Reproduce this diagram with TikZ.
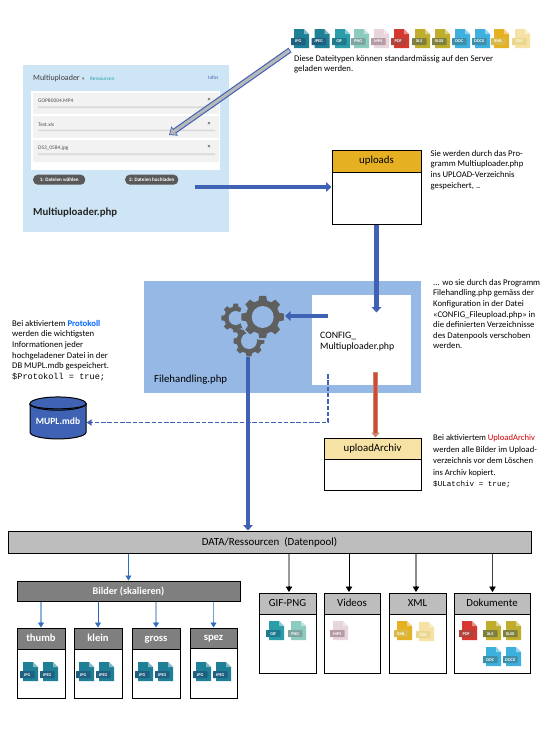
\documentclass[tikz,border=0pt]{standalone}
\usepackage{fontspec}
\setmainfont{Carlito}
\newfontfamily\monof{Liberation Mono}
\usetikzlibrary{arrows.meta,shapes.geometric,calc}
\definecolor{blueA}{HTML}{3F62B4}
\definecolor{panelB}{HTML}{95B8E5}
\definecolor{panelA}{HTML}{CDE5F4}
\definecolor{grayA}{HTML}{BDBDBD}
\definecolor{grayB}{HTML}{7F7F7F}
\definecolor{gearC}{HTML}{5F5F5F}
\definecolor{gold}{HTML}{E5B022}
\definecolor{goldP}{HTML}{F7E2A5}
\definecolor{tealD}{HTML}{1E7F96}\definecolor{tealDt}{HTML}{1F5F80}
\definecolor{tealM}{HTML}{2A9DA8}\definecolor{tealMt}{HTML}{1F7A90}
\definecolor{mint}{HTML}{8CCBBF}\definecolor{mintT}{HTML}{7FA5A0}
\definecolor{rose}{HTML}{E8D5DC}\definecolor{roseT}{HTML}{B59AA8}
\definecolor{redI}{HTML}{D5382F}\definecolor{redT}{HTML}{B0443C}
\definecolor{olive}{HTML}{BFAE2C}\definecolor{oliveT}{HTML}{7F8040}
\definecolor{skyI}{HTML}{3DB0DE}\definecolor{skyT}{HTML}{3E8FAA}
\definecolor{goldT}{HTML}{D9B94A}\definecolor{paleT}{HTML}{EAD88F}
\definecolor{tipB}{HTML}{2E6FBF}
\definecolor{aT}{HTML}{8FB4D9}\definecolor{aK}{HTML}{2566B8}\definecolor{aG}{HTML}{A5BFDB}\definecolor{aS}{HTML}{6FA0D0}
\definecolor{arrowRed}{HTML}{D24A32}\definecolor{arrowRedO}{HTML}{C9866E}
\newcounter{ic}
\newcommand\fileicon[5]{% x,y,body,tag,label
  \begin{scope}[shift={(#1,#2)}]
    \fill[#3] (3,0) -- (13,0) -- (18,5) -- (18,19) -- (3,19) -- cycle;
    \fill[white,opacity=.45] (13,0) -- (18,5) -- (13,5) -- cycle;
    \fill[#4,rounded corners=.5pt] (0,9) rectangle (14.5,16);
    \stepcounter{ic}
    \node[icontext] (icon\theic) at (7.2,12.6) {#5};
  \end{scope}}
\newcommand\gearat[7]{% x,y,outer,root,hole,teeth,colour
  \begin{scope}[shift={(#1,#2)}]
    \pgfmathsetmacro\st{360/#6}
    \fill[#7] (-.32*\st:#4) \foreach \k in {1,...,#6}{
      -- ({(\k-1)*\st-.32*\st}:#4) -- ({(\k-1)*\st-.2*\st}:#3)
      -- ({(\k-1)*\st+.2*\st}:#3) -- ({(\k-1)*\st+.32*\st}:#4)} -- cycle;
    \fill[panelB] (0,0) circle (#5);
  \end{scope}}
% shaft colour, shaft width, tip colour, tip style, from, to
\newcommand\tipline[6]{%
  \draw[#1,line width=#2,shorten >=4pt] (#5) -- (#6);
  \draw[#3,line width=.8pt,#4] ($(#6)+(0,-6)$) -- (#6);}
\tikzset{
  txt/.style={anchor=north west,align=left,inner sep=0pt,font=\fontsize{8.7}{10.6}\selectfont},
  txtw/.style={anchor=north west,align=left,inner sep=0pt,font=\fontsize{8.6}{11.9}\selectfont},
  icontext/.style={inner sep=0pt,text=white,font=\bfseries\fontsize{4.3}{4.5}\selectfont},
  headbox/.style={draw=black,line width=1pt,minimum height=21pt,inner sep=0pt,anchor=north west,text height=7.5pt,text depth=2.2pt,font=\fontsize{10.8}{12}\selectfont},
  fat/.style={-{Triangle[length=5.5pt,width=9.5pt]},blueA,line width=4.8pt},
  tipthin/.style={-{Triangle[length=5pt,width=6pt]}},
  tipblack/.style={-{Triangle[length=5.5pt,width=6.5pt]}},
  rowbox/.style={fill=black!5,draw=none,inner sep=0pt,anchor=north west},
  uilabel/.style={anchor=west,inner sep=0pt,text=black!70,font=\fontsize{5.4}{6}\selectfont},
  uibtn/.style={fill=black!65,rounded corners=4.5pt,minimum height=10pt,inner sep=0pt,anchor=north west,text=white,font=\bfseries\fontsize{5.1}{6}\selectfont},
  x=1pt,y=-1pt
}
\begin{document}
\begin{tikzpicture}
\useasboundingbox (0,0) rectangle (550,729);
\fill[white] (0,0) rectangle (550,729);
% ---- Multiuploader panel
\node[fill=panelA,minimum width=206pt,minimum height=167pt,inner sep=0pt,anchor=north west] (mupanel) at (23,65) {};
\node[fill=white,minimum width=189pt,minimum height=79pt,inner sep=0pt,anchor=north west] (muwhite) at (31,91) {};
\node[rowbox,minimum width=186pt,minimum height=21pt] (row1) at (33,92.5) {};
\node[rowbox,minimum width=186pt,minimum height=22pt] (row2) at (33,116) {};
\node[rowbox,minimum width=186pt,minimum height=22pt] (row3) at (33,140) {};
\fill[black!15] (38,106.3) rectangle (215,108) (38,129.5) rectangle (215,131) (38,153.3) rectangle (215,155);
\node[anchor=west,inner sep=0pt,text=black!75,font=\fontsize{8}{10}\selectfont] (mutitle) at (33,78) {Multiuploader};
\node[anchor=west,inner sep=0pt,text=black!70,font=\fontsize{5}{6}\selectfont] (mux) at (82,79) {\textbf{×}};
\node[anchor=west,inner sep=0pt,text=tealM,font=\fontsize{5.2}{6}\selectfont] (mures) at (90,79.3) {Ressourcen};
\node[anchor=west,inner sep=0pt,text=blueA,font=\fontsize{5.2}{6}\selectfont] (muinfo) at (208,78) {Infos};
\node[uilabel] (f1) at (38,101) {GOPR0004.MP4};
\node[uilabel] (f2) at (38,124.5) {Test.xls};
\node[uilabel] (f3) at (38,148.5) {DS3\_0584.jpg};
\node[inner sep=0pt,text=black!70,font=\bfseries\fontsize{6}{6}\selectfont] (x1) at (209,100) {×};
\node[inner sep=0pt,text=black!70,font=\bfseries\fontsize{6}{6}\selectfont] (x2) at (209,124) {×};
\node[inner sep=0pt,text=black!70,font=\bfseries\fontsize{6}{6}\selectfont] (x3) at (209,147) {×};
\node[uibtn,minimum width=52pt] (btn1) at (33,174.5) {1: Dateien wählen};
\node[uibtn,minimum width=53pt] (btn2) at (125,174.5) {2: Dateien hochladen};
\node[anchor=west,inner sep=0pt,font=\fontsize{10.8}{13}\selectfont\bfseries,text=black!85] (mulabel) at (33,212.5) {Multiuploader.php};
% ---- top icons
\fileicon{291}{29}{tealD}{tealDt}{JPG}
\fileicon{311.5}{29}{tealD}{tealDt}{JPEG}
\fileicon{332}{29}{tealM}{tealMt}{GIF}
\fileicon{351}{29}{mint}{mintT}{PNG}
\fileicon{371}{29}{rose}{roseT}{MP4}
\fileicon{391}{29}{redI}{redT}{PDF}
\fileicon{412}{29}{olive}{oliveT}{XLS}
\fileicon{432}{29}{olive}{oliveT}{XLSX}
\fileicon{452}{29}{skyI}{skyT}{DOC}
\fileicon{472}{29}{skyI}{skyT}{DOCX}
\fileicon{491}{29}{gold}{goldT}{XML}
\fileicon{512}{29}{goldP}{paleT}{CSV}
% ---- side texts
\node[txt] (t1) at (294,55) {Diese Dateitypen können standardmässig auf den Server\\geladen werden.};
\node[txt] (t2) at (430.5,150) {Sie werden durch das Pro-\\gramm Multiuploader.php\\ins UPLOAD-Verzeichnis\\gespeichert, ..};
\node[txt] (t3) at (433,279) {... wo sie durch das Programm\\Filehandling.php gemäss der\\Konfiguration in der Datei\\«CONFIG\_Fileupload.php» in\\die definierten Verzeichnisse\\des Datenpools verschoben\\werden.};
\node[txt] (t4) at (12,320) {Bei aktiviertem \textcolor{blue!60!cyan}{\textbf{Protokoll}}\\werden die wichtigsten\\Informationen jeder\\hochgeladener Datei in der\\DB MUPL.mdb gespeichert.\\{\monof\fontsize{8.6}{10.6}\selectfont\$Protokoll = true;}};
\node[txtw] (t5) at (433,434) {Bei aktiviertem \textcolor{red!80!black}{UploadArchiv}\\werden alle Bilder im Upload-\\verzeichnis vor dem Löschen\\ins Archiv kopiert.\\[-1.5pt]{\monof\fontsize{7.6}{10}\selectfont\$ULatchiv = true;}};
% ---- uploads box
\node[draw=black,line width=1pt,fill=white,minimum width=89pt,minimum height=74pt,inner sep=0pt,anchor=north west] (uploads) at (331.5,149.5) {};
\node[headbox,fill=gold,minimum width=89pt,minimum height=22pt] (uploadsH) at (331.5,149.5) {uploads};
% ---- Filehandling panel
\node[fill=panelB,minimum width=277pt,minimum height=112pt,inner sep=0pt,anchor=north west] (fh) at (144,281) {};
\node[fill=white,minimum width=99pt,minimum height=90pt,inner sep=0pt,anchor=north west] (cfg) at (312,295) {};
\node[anchor=north west,align=left,inner sep=0pt,font=\fontsize{9.8}{11}\selectfont] (cfgt) at (320,331.5) {CONFIG\_\\Multiuploader.php};
\node[anchor=west,inner sep=0pt,font=\fontsize{10.8}{12}\selectfont] (fhlabel) at (154,380) {Filehandling.php};
% gears
\gearat{235.7}{318}{14.5}{11.5}{7}{8}{gearC}
\gearat{249}{341}{15.5}{12.5}{8}{8}{gearC}
\fill[panelB] (262.7,317) circle (23);
\gearat{262.7}{317}{21.5}{17}{11}{8}{gearC}
\coordinate (gearR) at (285,316);
\coordinate (gearB) at (248,357);
% ---- db
\node[cylinder,shape border rotate=90,aspect=.3,draw=black,line width=1pt,fill=blueA,minimum width=56pt,minimum height=42pt,inner sep=0pt,text=white,font=\bfseries\fontsize{9.5}{11}\selectfont] (db) at (58,421.5) {MUPL.mdb};
\draw[black,line width=1pt] (db.before top) .. controls +(0,7) and +(0,7) .. (db.after top);
% ---- uploadArchiv
\node[draw=black,line width=1pt,fill=white,minimum width=97pt,minimum height=52pt,inner sep=0pt,anchor=north west] (arch) at (323.5,437.5) {};
\node[headbox,fill=goldP,minimum width=97pt,minimum height=21pt] (archH) at (323.5,437.5) {uploadArchiv};
% ---- data
\node[draw=black,line width=1pt,fill=grayA,minimum width=523pt,minimum height=22pt,inner sep=0pt,anchor=north west,font=\fontsize{10.9}{12}\selectfont] (data) at (7.5,530.5) {DATA/Ressourcen\ \ (Datenpool)};
\node[draw=black,line width=1pt,fill=grayB,text=white,minimum width=223pt,minimum height=20.5pt,inner sep=0pt,anchor=north west,font=\bfseries\fontsize{10.2}{12}\selectfont] (bilder) at (16.5,580.5) {Bilder (skalieren)};
% sub boxes
\foreach \nm/\xx/\ww/\hh/\lab in {thumb/16.5/48/21/thumb,klein/73.5/48/21/klein,gross/131.5/48/21/gross,spez/189.5/47/20/spez}{
  \node[draw=black,line width=1pt,fill=white,minimum width=\ww pt,minimum height=70pt,inner sep=0pt,anchor=north west] (\nm) at (\xx,627.5) {};
  \node[headbox,fill=grayB,text=white,minimum width=\ww pt,minimum height=\hh pt,font=\bfseries\fontsize{10.6}{12}\selectfont] (\nm H) at (\xx,627.5) {\lab};
}
\foreach \nm/\xx/\ww/\lab in {gif/258.5/57/GIF-PNG,vid/323.5/56/Videos,xml/388.5/57/XML,dok/453.5/76/Dokumente}{
  \node[draw=black,line width=1pt,fill=white,minimum width=\ww pt,minimum height=80pt,inner sep=0pt,anchor=north west] (\nm) at (\xx,592.5) {};
  \node[headbox,fill=grayA,minimum width=\ww pt,minimum height=21pt] (\nm H) at (\xx,592.5) {\lab};
}
% icons in sub boxes
\foreach \xx in {20,76,135,193}{
  \fileicon{\xx}{662}{tealD}{tealDt}{JPG}
  \pgfmathsetmacro\xb{\xx+20}
  \fileicon{\xb}{662}{tealD}{tealDt}{JPEG}
}
\fileicon{266}{621}{tealM}{tealMt}{GIF}
\fileicon{288}{621}{mint}{mintT}{PNG}
\fileicon{330}{621}{rose}{roseT}{MP4}
\fileicon{394}{621}{gold}{goldT}{XML}
\fileicon{416}{622}{goldP}{paleT}{CSV}
\fileicon{459}{621}{redI}{redT}{PDF}
\fileicon{483}{621}{olive}{oliveT}{XLS}
\fileicon{503}{621}{olive}{oliveT}{XLSX}
\fileicon{483}{647}{skyI}{skyT}{DOC}
\fileicon{503}{647}{skyI}{skyT}{DOCX}
% ---- connectors
\coordinate (garrowS) at (290,50);
\coordinate (garrowE) at (169,135);
\draw[-{Triangle[length=7pt,width=11pt]},blueA,line width=5.5pt] (garrowS) -- (garrowE);
\draw[-{Triangle[length=5pt,width=8pt]},black!28,line width=3.2pt,shorten >=1.3pt,shorten <=.8pt] (garrowS) -- (garrowE);
\coordinate (a1s) at (195,187);
\draw[fat] (a1s) -- (uploads.west |- a1s);
\draw[fat] (uploads.south) -- (uploads.south |- 0,312.5);
\coordinate (a3s) at (328,316);
\draw[fat] (a3s) -- (gearR);
\coordinate (a4s) at (375.5,372);
\draw[-{Triangle[length=5pt,width=8pt]},arrowRedO,line width=4.8pt] (a4s) -- (arch.north -| a4s);
\draw[arrowRed,line width=2.8pt] ($(a4s)+(0,1)$) -- ($(arch.north -| a4s)+(0,-5)$);
\draw[fat] (gearB) -- (gearB |- data.north);
\coordinate (dashS) at (328,374);
\draw[-{Triangle[length=5pt,width=6pt]},blueA,line width=1.7pt,dash pattern=on 4.5pt off 1.8pt] (dashS) |- ($(db.east)+(0,1)$);
\coordinate (dataB) at (data.south -| bilder.north);
\tipline{tipB}{1pt}{tipB}{tipthin}{dataB}{bilder.north}
\coordinate (bT) at (bilder.south -| thumbH.north);
\coordinate (bK) at (bilder.south -| kleinH.north);
\coordinate (bG) at (bilder.south -| grossH.north);
\coordinate (bS) at (bilder.south -| spezH.north);
\tipline{aT}{1.6pt}{tipB}{tipthin}{bT}{thumbH.north}
\tipline{aK}{1pt}{tipB}{tipthin}{bK}{kleinH.north}
\tipline{aG}{1.6pt}{tipB}{tipthin}{bG}{grossH.north}
\tipline{aS}{1.6pt}{tipB}{tipthin}{bS}{spezH.north}
\coordinate (g1) at (289,592);
\coordinate (g2) at (349,592);
\coordinate (g3) at (416,592);
\coordinate (g4) at (492.5,592);
\coordinate (d1) at (data.south -| g1);
\coordinate (d2) at (data.south -| g2);
\coordinate (d3) at (data.south -| g3);
\coordinate (d4) at (data.south -| g4);
\tipline{black!40}{1.5pt}{black}{tipblack}{d1}{g1}
\tipline{black}{1pt}{black}{tipblack}{d2}{g2}
\tipline{black!45}{1.3pt}{black}{tipblack}{d3}{g3}
\tipline{black!75}{1pt}{black}{tipblack}{d4}{g4}
\end{tikzpicture}
\end{document}
